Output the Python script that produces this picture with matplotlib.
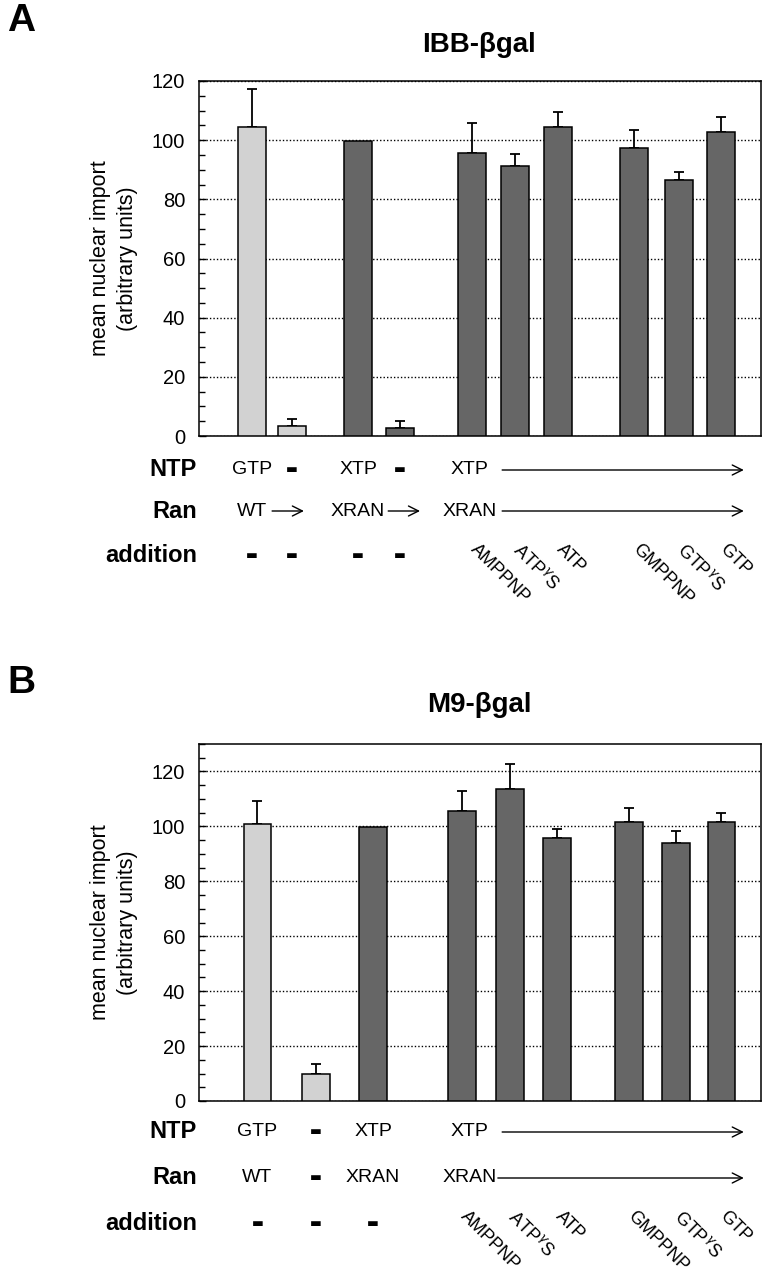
import matplotlib
matplotlib.use('Agg')
import matplotlib.pyplot as plt
import matplotlib.transforms as mtrans
import numpy as np

plt.rcParams['font.family'] = ['Liberation Sans', 'DejaVu Sans']

LIGHT = '#d2d2d2'
DARK = '#666666'

# panel A: IBB-bgal
ibb_vals = [104.3, 3.5, 99.8, 2.6, 95.8, 91.3, 104.3, 97.4, 86.5, 102.7]
ibb_err = [12.9, 2.4, 0, 2.5, 9.9, 4.1, 5.2, 5.9, 2.6, 5.3]
ibb_light = [True, True, False, False, False, False, False, False, False, False]
ibb_ntp = ['GTP', '-', 'XTP', '-', 'XTP']
ibb_ran = ['WT', '', 'XRAN', '', 'XRAN']
ibb_add = ['-', '-', '-', '-', 'AMPPNP', r'ATP$^{\gamma}$S', 'ATP',
           'GMPPNP', r'GTP$^{\gamma}$S', 'GTP']

# panel B: M9-bgal
m9_vals = [100.9, 9.9, 99.6, 105.5, 113.5, 95.8, 101.6, 94.1, 101.6]
m9_err = [8.4, 3.6, 0, 7.4, 9.2, 3.3, 5.1, 4.1, 3.4]
m9_light = [True, True, False, False, False, False, False, False, False]
m9_ntp = ['GTP', '-', 'XTP', 'XTP']
m9_ran = ['WT', '-', 'XRAN', 'XRAN']
m9_add = ['-', '-', '-', 'AMPPNP', r'ATP$^{\gamma}$S', 'ATP',
          'GMPPNP', r'GTP$^{\gamma}$S', 'GTP']

# layout (bar centres, label positions)
pos_a = [1.23, 2.16, 3.70, 4.67, 6.35, 7.35, 8.35, 10.12, 11.16, 12.14]
pos_b = [1.36, 2.72, 4.05, 6.12, 7.23, 8.33, 10.0, 11.09, 12.15]
lab_a = [1.23, 2.16, 3.70, 4.67, 6.30]
lab_b = [1.36, 2.72, 4.05, 6.30]
XMAX = 13.07
W = 0.64
H = 1280.0

fig = plt.figure(figsize=(7.65, 12.8), dpi=100)


def fy(py):
    return 1 - py / H


def dash(ax, x, y, tr):
    ax.text(x, y, '\u25ac', transform=tr, ha='center', va='center',
            fontsize=9, family='DejaVu Sans')


def panel(top, bottom, pos, vals, err, light, ymax, title, tpy, letter, lpy,
          ntp, ran, add, labx, rows, arrows, rot_y):
    ax = fig.add_axes([199 / 765, fy(bottom), 562 / 765, (bottom - top) / H])
    cols = [LIGHT if l else DARK for l in light]
    ax.bar(pos, vals, width=W, color=cols, edgecolor='black', linewidth=1.1, zorder=3)
    e = np.array(err)
    m = e > 0
    ax.errorbar(np.array(pos)[m], np.array(vals)[m], yerr=[np.zeros(m.sum()), e[m]],
                fmt='none', ecolor='black', elinewidth=1.3, capsize=3.5, capthick=1.3, zorder=2)
    ax.set_xlim(0, XMAX)
    ax.set_ylim(0, ymax)
    ax.set_yticks(np.arange(0, ymax + 1, 20))
    ax.set_yticks(np.arange(0, ymax + 1, 5), minor=True)
    ax.set_xticks([])
    ax.tick_params(axis='y', which='both', direction='in', labelsize=14.5, pad=10, width=1)
    ax.tick_params(axis='y', which='major', length=5)
    ax.tick_params(axis='y', which='minor', length=4)
    ax.yaxis.grid(True, which='major', linestyle=(0, (1, 1.5)), color='black', lw=1, zorder=0)
    ax.set_axisbelow(True)
    for s in ax.spines.values():
        s.set_linewidth(1.1)

    fig.text(479 / 765, fy(tpy), title, ha='center', va='center', fontsize=20, fontweight='bold')
    fig.text(21 / 765, fy(lpy), letter, ha='center', va='center', fontsize=28, fontweight='bold')
    fig.text(114 / 765, fy((top + bottom) / 2), 'mean nuclear import\n(arbitrary units)',
             rotation=90, ha='center', va='center', fontsize=15.5, linespacing=1.4)

    tr = mtrans.blended_transform_factory(ax.transData, fig.transFigure)
    for name, py in zip(['NTP', 'Ran', 'addition'], rows):
        fig.text(197 / 765, fy(py), name, ha='right', va='center', fontsize=17, fontweight='bold')
    for row, py in zip([ntp, ran], rows[:2]):
        for x, t in zip(labx, row):
            if t == '-':
                dash(ax, x, fy(py), tr)
            elif t:
                ax.text(x, fy(py), t, transform=tr, ha='center', va='center', fontsize=14)
    for x, t in zip(pos, add):
        if t == '-':
            dash(ax, x, fy(rows[2]), tr)
        else:
            ax.text(x + 0.02, fy(rot_y), t, transform=tr, ha='left', va='center',
                    rotation=-45, rotation_mode='anchor', fontsize=13)
    for (x0, x1, py) in arrows:
        ax.annotate('', xy=(x1, fy(py)), xytext=(x0, fy(py)), xycoords=tr, textcoords=tr,
                    arrowprops=dict(arrowstyle='->', lw=1.0, color='black', mutation_scale=18,
                                    shrinkA=0, shrinkB=0), annotation_clip=False)
    return ax


panel(81, 436, pos_a, ibb_vals, ibb_err, ibb_light, 120, 'IBB-βgal', 45, 'A', 21,
      ibb_ntp, ibb_ran, ibb_add, lab_a, [470, 511, 556],
      [(7.05, 12.67, 470), (1.70, 2.44, 511), (4.40, 5.14, 511), (7.05, 12.67, 511)], 547)

panel(744, 1101, pos_b, m9_vals, m9_err, m9_light, 130, 'M9-βgal', 705, 'B', 683,
      m9_ntp, m9_ran, m9_add, lab_b, [1132, 1178, 1224],
      [(7.05, 12.67, 1132), (6.95, 12.67, 1178)], 1214)

fig.savefig('out.png', dpi=100)
